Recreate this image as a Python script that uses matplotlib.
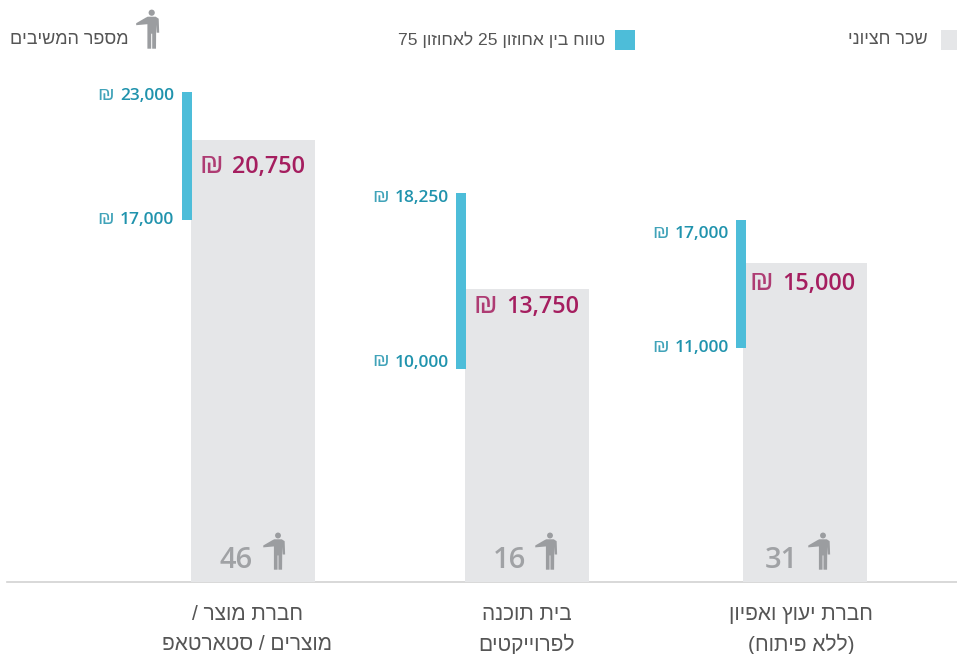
import matplotlib
matplotlib.use("Agg")
import matplotlib.pyplot as plt
from matplotlib.patches import Rectangle, Circle, Polygon
import re

plt.rcParams['font.family'] = ['Open Sans', 'DejaVu Sans']
HEB = ['Liberation Sans', 'DejaVu Sans']

# ---- data ----
categories = ["חברת מוצר /\nמוצרים / סטארטאפ", "בית תוכנה\nלפרוייקטים", "חברת יעוץ ואפיון\n(ללא פיתוח)"]
median = [20750, 13750, 15000]
p25 = [17000, 10000, 11000]
p75 = [23000, 18250, 17000]
respondents = [46, 16, 31]
legend_median = "שכר חציוני"
legend_range = "טווח בין אחוזון 25 לאחוזון 75"
legend_count = "מספר המשיבים"

# ---- layout (pixels) ----
W, H = 957, 654
BASE = 582
PX_PER_UNIT = 21.3 / 1000
bar_left = [191, 465, 743]
bar_w = 124
range_left = [182, 456, 736]
range_w = 10
p75_label_y = [96, 198, 234]
p25_label_y = [220, 363, 348]
range_label_right = [174, 449, 729]
median_label_right = [305, 579, 855]
median_label_y = [167, 307, 284]
count_left = [220, 493, 765]
icon_head_x = [278, 550, 823]
cat_center = [247, 527, 801]

GRAY = '#E5E6E8'
BLUE = '#4DBDD9'
TEAL = '#2093AD'
MAGENTA = '#A51E5F'
ICON = '#9B9DA0'
TXT = '#555555'


def visual(s):
    """matplotlib has no bidi layout: turn logical Hebrew into visual order."""
    tokens = re.split(r'( )', s)
    out = []
    for t in reversed(tokens):
        if re.search(r'[\u0590-\u05FF]', t):
            t = t[::-1].translate(str.maketrans('()', ')('))
        out.append(t)
    return ''.join(out)


fig = plt.figure(figsize=(W / 100, H / 100), dpi=100, facecolor='white')

# data axes: value scale
ax = fig.add_axes([0, 0, 1, 1])
ax.set_xlim(0, W)
ax.set_ylim(-(H - BASE) / PX_PER_UNIT, BASE / PX_PER_UNIT)
ax.axis('off')

ax.bar(bar_left, median, width=bar_w, align='edge', color=GRAY, linewidth=0, zorder=1)
ax.bar(range_left, [t - b for t, b in zip(p75, p25)], bottom=p25, width=range_w,
       align='edge', color=BLUE, linewidth=0, zorder=2)
ax.axhline(0, xmin=7 / W, xmax=1, color='#D2D2D2', lw=1.2, zorder=0)

# overlay axes in pixels for annotations and icons
ov = fig.add_axes([0, 0, 1, 1])
ov.set_xlim(0, W)
ov.set_ylim(H, 0)
ov.axis('off')
ov.patch.set_alpha(0)

BODY = [(-15.5, 10.5), (-6, 5), (-4, 4), (4, 4), (7, 6), (7.5, 20), (5, 20), (4.5, 12),
        (4.3, 36), (0.5, 36), (0.5, 21), (-0.5, 21), (-0.5, 36), (-4.3, 36), (-4.3, 11.5),
        (-15.5, 12.5)]


def person(x, y, k=1.0):
    ov.add_patch(Circle((x, y), 3.1 * k, color=ICON, lw=0))
    ov.add_patch(Polygon([(x + a * k, y + b * k) for a, b in BODY], closed=True, color=ICON, lw=0))


renderer = fig.canvas.get_renderer()


def money(right, y, v, color, size, sym_size, gap):
    t = ov.text(right, y, f"{v:,}", ha='right', va='center', color=color, fontsize=size, fontweight=600)
    w = t.get_window_extent(renderer).width
    ov.text(right - w - gap, y - 1, "₪", ha='right', va='center', color=color, fontsize=sym_size,
            fontfamily=HEB, fontweight='normal', alpha=0.85)


for i in range(3):
    money(range_label_right[i], p75_label_y[i], p75[i], TEAL, 12.5, 14, 6)
    money(range_label_right[i], p25_label_y[i], p25[i], TEAL, 12.5, 14, 6)
    money(median_label_right[i], median_label_y[i], median[i], MAGENTA, 16.8, 20, 9)
    ov.text(count_left[i], 560, str(respondents[i]), ha='left', va='center',
            color='#A0A2A5', fontsize=21, fontweight=600)
    person(icon_head_x[i], 535.5, 0.95)
    l1, l2 = categories[i].split('\n')
    ov.text(cat_center[i], 614, visual(l1), ha='center', va='center', color=TXT, fontsize=15, fontfamily=HEB)
    ov.text(cat_center[i], 644, visual(l2), ha='center', va='center', color=TXT, fontsize=15, fontfamily=HEB)

# legend row
ov.add_patch(Rectangle((941, 30), 16, 20, color=GRAY, lw=0))
ov.text(928, 40, visual(legend_median), ha='right', va='center', color=TXT, fontsize=13, fontfamily=HEB)
ov.add_patch(Rectangle((615, 30), 20, 20, color=BLUE, lw=0))
ov.text(605, 40, visual(legend_range), ha='right', va='center', color=TXT, fontsize=12.6, fontfamily=HEB)
ov.text(129, 40, visual(legend_count), ha='right', va='center', color=TXT, fontsize=13, fontfamily=HEB)
person(151.7, 12.7, 1.0)

fig.savefig('out.png', dpi=100)
